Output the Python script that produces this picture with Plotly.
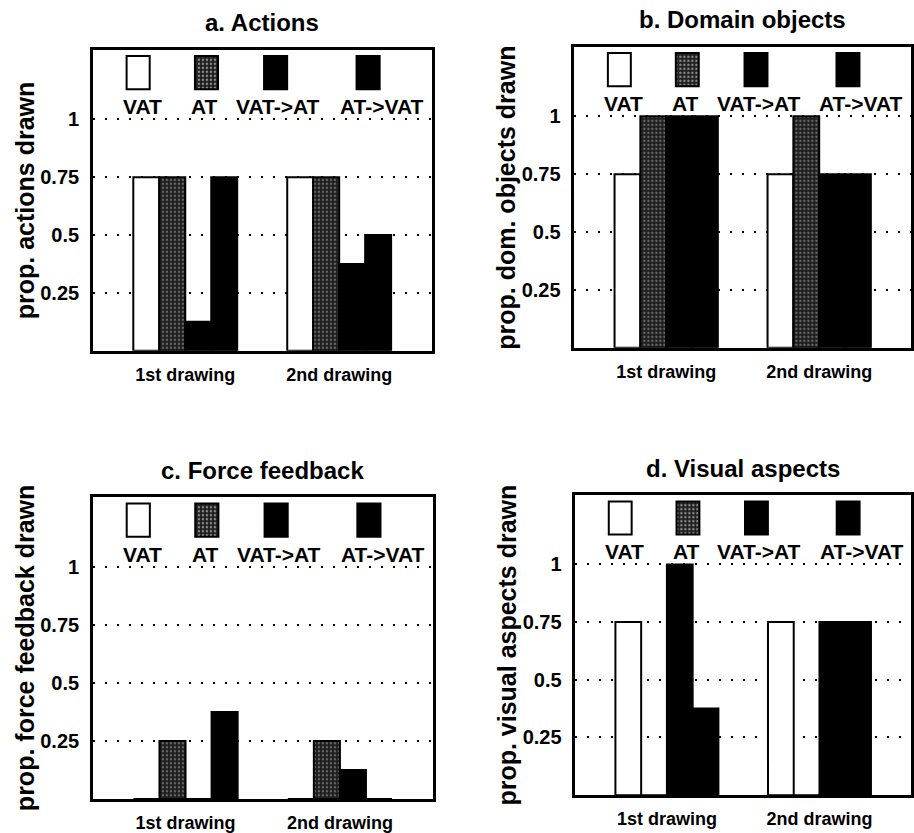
import plotly.graph_objects as go

# ---- data -------------------------------------------------------------
groups = ["1st drawing", "2nd drawing"]
group_x = [1, 2]
conditions = ["VAT", "AT", "VAT->AT", "AT->VAT"]

# proportions per condition (rows follow `conditions`), columns = drawings
actions = [[0.75, 0.75], [0.75, 0.75], [0.125, 0.375], [0.75, 0.5]]
domain_objects = [[0.75, 0.75], [1.0, 1.0], [1.0, 0.75], [1.0, 0.75]]
force_feedback = [[0.0, 0.0], [0.25, 0.25], [0.0, 0.125], [0.375, 0.0]]
visual_aspects = [[0.75, 0.75], [0.0, 0.0], [1.0, 0.75], [0.375, 0.75]]

panel_titles = ["a. Actions", "b. Domain objects", "c. Force feedback", "d. Visual aspects"]
y_titles = ["prop. actions drawn", "prop. dom. objects drawn",
            "prop. force feedback drawn", "prop. visual aspects drawn"]
y_tickvals = [0.25, 0.5, 0.75, 1]
y_ticktext = ["0.25", "0.5", "0.75", "1"]

# ---- layout / style ----------------------------------------------------
W, H = 914, 833
FONT = "Liberation Sans, Arial, Helvetica, sans-serif"
panels = [actions, domain_objects, force_feedback, visual_aspects]
# axes boxes in pixels: (left, top, right, bottom)
boxes = [(93, 50, 432, 352), (575, 47, 912, 349),
         (93, 499, 433, 802), (576, 497, 912, 798)]

bar_w = 0.16875
group_half = 2 * bar_w
fills = ["white", "#1e1e1e", "black", "black"]
patterns = ["", ".", "", ""]
speckle = dict(fgcolor="#b4b4b4", size=4, solidity=0.28, fillmode="overlay")

# in-axes key: swatches above the y=1 line with labels underneath
key_x = [0.694, 1.138, 1.587, 2.188]
key_w = 0.15
key_base, key_h = 1.13, 0.143
key_label_x = [0.724, 1.127, 1.604, 2.276]
key_label_y = 1.054

fig = go.Figure()
annotations = []

for p, (data, box) in enumerate(zip(panels, boxes)):
    n = p + 1
    xa = "x" if n == 1 else f"x{n}"
    ya = "y" if n == 1 else f"y{n}"
    for k, cond in enumerate(conditions):
        fig.add_trace(go.Bar(
            x=group_x, y=data[k], name=cond, xaxis=xa, yaxis=ya,
            width=bar_w, offset=-group_half + k * bar_w,
            marker=dict(color=fills[k], line=dict(color="black", width=2),
                        pattern=dict(shape=patterns[k], **speckle)),
            showlegend=False, hoverinfo="skip"))
    # key swatches
    fig.add_trace(go.Bar(
        x=key_x, y=[key_h] * 4, base=[key_base] * 4, xaxis=xa, yaxis=ya,
        width=key_w,
        marker=dict(color=fills, line=dict(color="black", width=2),
                    pattern=dict(shape=patterns, **speckle)),
        showlegend=False, hoverinfo="skip"))
    for cond, lx in zip(conditions, key_label_x):
        annotations.append(dict(
            text=cond, x=lx, y=key_label_y, xref=xa, yref=ya, showarrow=False,
            xanchor="center", yanchor="middle",
            font=dict(family=FONT, size=21, color="black", weight="bold")))

    left, top, right, bottom = box
    xdom = [left / W, right / W]
    ydom = [1 - bottom / H, 1 - top / H]
    fig.layout[f"xaxis{n if n > 1 else ''}"] = dict(
        domain=xdom, range=[0.4, 2.6], anchor=ya,
        tickvals=group_x, ticktext=groups, showgrid=False,
        showline=True, linecolor="black", linewidth=2.5, mirror=True,
        zeroline=False, ticks="", ticklabelstandoff=6,
        tickfont=dict(family=FONT, size=18, color="black", weight="bold"))
    fig.layout[f"yaxis{n if n > 1 else ''}"] = dict(
        domain=ydom, range=[0, 1.3], anchor=xa,
        tickvals=y_tickvals, ticktext=y_ticktext,
        showgrid=True, gridcolor="black", gridwidth=2, griddash="2px,10px",
        showline=True, linecolor="black", linewidth=2.5, mirror=True,
        zeroline=False, ticks="", ticklabelstandoff=7,
        tickfont=dict(family=FONT, size=20, color="black", weight="bold"))

    # panel title and y-axis title
    annotations.append(dict(
        text=panel_titles[p], x=(left + right) / 2 / W, y=1 - (top - 27) / H,
        xref="paper", yref="paper", showarrow=False, xanchor="center", yanchor="middle",
        font=dict(family=FONT, size=24, color="black", weight="bold")))
    annotations.append(dict(
        text=y_titles[p], x=(left - 68) / W, y=1 - (top + bottom) / 2 / H,
        xref="paper", yref="paper", showarrow=False, textangle=-90,
        xanchor="center", yanchor="middle",
        font=dict(family=FONT, size=25, color="black", weight="bold")))

fig.update_layout(
    width=W, height=H, margin=dict(l=0, r=0, t=0, b=0),
    paper_bgcolor="white", plot_bgcolor="white",
    barmode="overlay", annotations=annotations, showlegend=False)

fig.write_html("out.html")
